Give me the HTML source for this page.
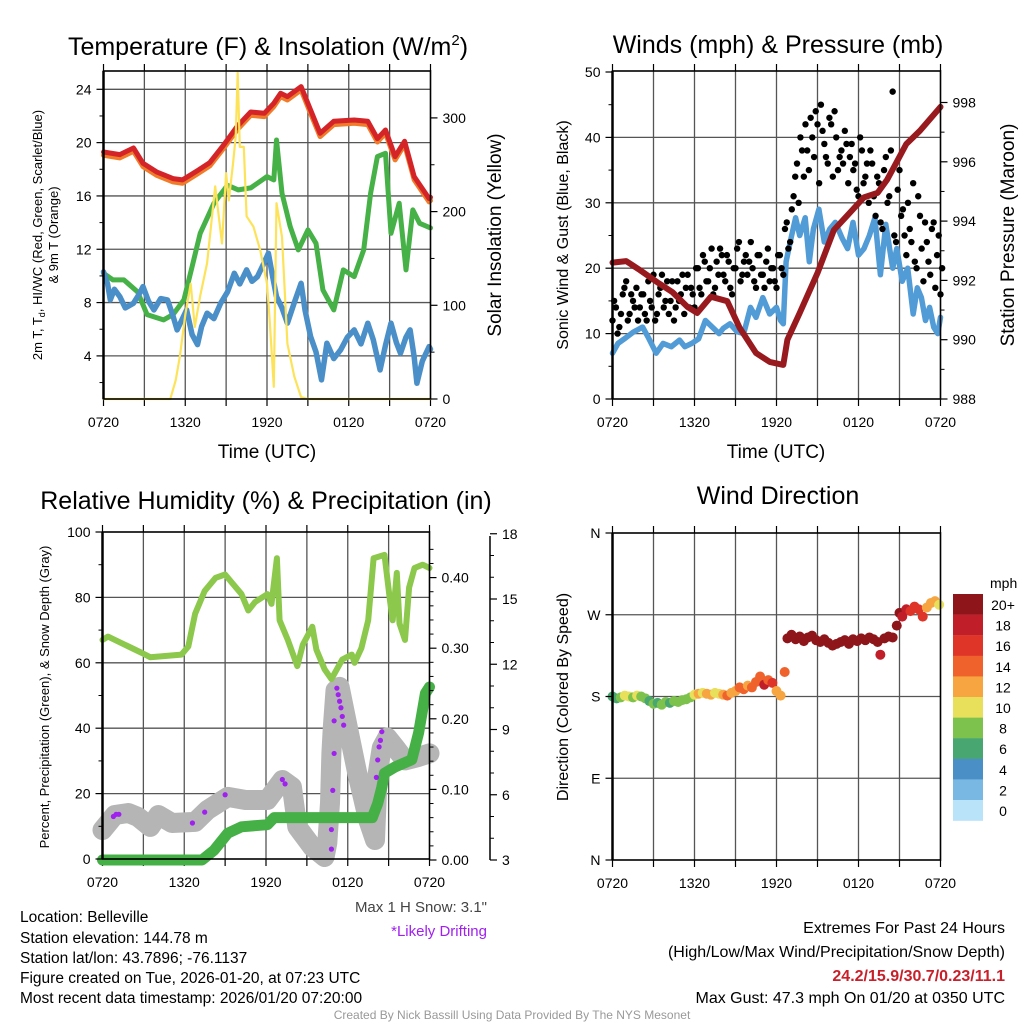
<!DOCTYPE html>
<html><head><meta charset="utf-8"><title>Belleville Mesonet</title>
<style>
html,body{margin:0;padding:0;background:#fff;}
svg{display:block;font-family:"Liberation Sans",Arial,sans-serif;}
</style></head>
<body>
<svg id="fig" width="1024" height="1024" viewBox="0 0 1024 1024" xmlns="http://www.w3.org/2000/svg">
<rect width="1024" height="1024" fill="#fff"/>
<text x="268" y="55" font-size="25" text-anchor="middle">Temperature (F) &amp; Insolation (W/m<tspan font-size="15" dy="-10">2</tspan><tspan dy="10">)</tspan></text>
<text x="778" y="53" font-size="25" text-anchor="middle">Winds (mph) &amp; Pressure (mb)</text>
<text x="266" y="509" font-size="25" text-anchor="middle">Relative Humidity (%) &amp; Precipitation (in)</text>
<text x="778" y="504" font-size="25" text-anchor="middle">Wind Direction</text>
<text x="267" y="458" font-size="19" text-anchor="middle">Time (UTC)</text>
<text x="776" y="458" font-size="19" text-anchor="middle">Time (UTC)</text>
<text transform="translate(42,235) rotate(-90)" font-size="13" text-anchor="middle">2m T, T<tspan font-size="9" dy="3">d</tspan><tspan dy="-3">, HI/WC (Red, Green, Scarlet/Blue)</tspan></text>
<text transform="translate(58,235) rotate(-90)" font-size="13" text-anchor="middle">&amp; 9m T (Orange)</text>
<text transform="translate(501,235) rotate(-90)" font-size="19" text-anchor="middle">Solar Insolation (Yellow)</text>
<text transform="translate(568,235) rotate(-90)" font-size="16" text-anchor="middle">Sonic Wind &amp; Gust (Blue, Black)</text>
<text transform="translate(1014,235) rotate(-90)" font-size="19" text-anchor="middle">Station Pressure (Maroon)</text>
<text transform="translate(49,697) rotate(-90)" font-size="13" text-anchor="middle">Percent, Precipitation (Green), &amp; Snow Depth (Gray)</text>
<text transform="translate(568,697) rotate(-90)" font-size="16" text-anchor="middle">Direction (Colored By Speed)</text>
<text x="487" y="912" font-size="15" text-anchor="end" fill="#444">Max 1 H Snow: 3.1"</text>
<text x="487" y="936" font-size="15" text-anchor="end" fill="#a020f0">*Likely Drifting</text>
<g font-size="15.5">
<text x="20" y="922">Location: Belleville</text>
<text x="20" y="943">Station elevation: 144.78 m</text>
<text x="20" y="963">Station lat/lon: 43.7896; -76.1137</text>
<text x="20" y="983">Figure created on Tue, 2026-01-20, at 07:23 UTC</text>
<text x="20" y="1003">Most recent data timestamp: 2026/01/20 07:20:00</text>
</g>
<g font-size="16" text-anchor="end">
<text x="1005" y="933">Extremes For Past 24 Hours</text>
<text x="1005" y="957">(High/Low/Max Wind/Precipitation/Snow Depth)</text>
<text x="1005" y="981" fill="#c8202a" font-weight="bold">24.2/15.9/30.7/0.23/11.1</text>
<text x="1005" y="1003">Max Gust: 47.3 mph On 01/20 at 0350 UTC</text>
</g>
<text x="512" y="1019" font-size="12" text-anchor="middle" fill="#999">Created By Nick Bassill Using Data Provided By The NYS Mesonet</text>
</svg>
<script>
// ---------- Data ----------
const timeLabels = ["0720","1320","1920","0120","0720"];
// Panel 1
const tempH = [0,1.2,2.2,2.9,3.9,5.1,5.8,6.9,7.8,8.8,9.8,10.8,11.8,12.5,13,13.5,14.5,15.1,15.9,16.9,18.4,19.4,20.1,20.7,21.4,22.1,22.8,23.9,24];
const tempV = [19.3,19.1,19.6,18.45,17.8,17.3,17.2,17.9,18.5,19.8,21.2,22.3,22.2,22.95,23.7,23.45,24.2,22.7,20.7,21.6,21.7,21.6,20.3,20.95,18.95,20.1,17.45,15.8,15.9];
const dewH = [0,0.7,1.5,2.5,3.2,4.4,5.1,5.9,6.5,7.1,8.1,9.1,9.9,10.8,12,12.5,12.7,13.1,13.7,14.3,15,15.6,16.1,16.9,17.6,18.4,19.1,19.6,20.1,20.7,21.1,21.7,22.2,22.7,23.2,24];
const dewV = [10.2,9.7,9.7,8.8,7.1,6.7,7.1,8.2,10.7,13.2,15.45,16.8,16.45,16.6,17.45,17.2,20.2,16.2,13.7,11.95,13.45,12.45,8.95,7.45,10.45,9.95,11.95,16.2,18.95,19.2,13.2,15.45,10.45,14.95,13.95,13.6];
const chillH = [0,0.3,0.5,0.8,1.2,1.6,2.2,2.6,2.9,3.3,3.7,4.2,4.7,5.1,5.4,5.8,6.1,6.5,6.9,7.2,7.6,8.1,8.6,9.1,9.6,10,10.5,10.9,11.3,11.7,12.1,12.4,12.7,13.1,13.5,14,14.5,14.8,15.2,15.6,16,16.4,16.9,17.4,17.9,18.4,18.9,19.4,19.8,20.3,20.7,21.1,21.5,21.8,22.2,22.5,22.8,23,23.4,23.9,24];
const chillV = [10.3,9.4,8.2,9.0,8.45,7.6,7.95,8.6,9.2,8.1,7.45,8.3,8.2,7.0,5.95,6.8,7.45,5.6,4.85,6.2,7.2,6.8,7.95,8.8,10.2,9.4,10.45,9.6,9.95,10.8,11.7,10.0,8.45,7.6,6.45,8.0,9.45,7.4,5.45,4.3,2.2,4.95,3.8,4.45,5.4,5.95,4.9,6.45,5.2,2.95,4.8,6.45,5.0,4.2,5.4,5.95,3.9,1.95,3.6,4.7,4.5];
const solarH = [0,4.9,5.3,5.6,6.0,6.4,6.7,7.1,7.6,8.2,8.7,9.0,9.2,9.5,9.7,9.85,10,10.3,10.5,11,11.5,12,12.2,12.5,12.7,13.1,13.5,14,14.5,15,24];
const solarV = [0,0,20,45,90,123,77,110,145,227,166,241,212,250,280,348,269,269,195,184,159,123,84,13,209,173,59,24,2,0,0];
// Panel 2
const windH = [0,0.4,1.0,1.5,2.2,2.6,3.2,3.7,4.3,4.9,5.3,5.8,6.3,6.8,7.3,7.8,8.1,8.6,9.1,9.6,10.1,10.5,11.0,11.5,12.0,12.3,12.5,12.7,13.0,13.4,13.7,14.1,14.4,14.7,15.1,15.5,15.9,16.3,16.8,17.2,17.6,18.0,18.4,18.8,19.2,19.6,20.0,20.5,20.8,21.2,21.6,22.0,22.3,22.6,22.9,23.2,23.5,23.8,24];
const windV = [7,8.5,9.4,10.2,11,9.5,7,8.5,8,9,8,8.5,9.2,12,11,10,10.8,11.5,10.3,10,14,12.5,15.5,13,14,12,11.5,21,24,27.7,25,27.7,21,26,29,24,26,27,24.6,23,27,22,23,25,27.7,19,26.7,20,23,18,20,13,17,15.5,12,14,11,10,12.5];
const gustH0 = 0, gustStep = 0.25;
const gustV = [12,14,11,16,18,13,15,17,14, 16,12,15,19,13,17,14,18, 15,12,18,16,13,19,17,14, 20,16,21,18,23,17,19,22, 18,21,16,20,24,19,22,21, 20,17,22,19,21,18,20,17, 22,19,27,24, 31,36,40,34,38,43,37,42, 45,39,36,42,44,35,38,41, 33,39,36,31,38,34,30,36, 28,33,26,37,31,47,24,35, 29,22,26,33,20,28,18, 24,19,27,22,16];
const gustV2 = [15,10,13,17,12,16,14,12,16, 13,18,14,12,16,19,15,13, 18,14,15,19,17,14,16,20, 17,22,18,20,16,21,23,19, 22,17,20,23,18,21,19,24, 18,22,19,17,23,20,18,22, 20,26,23,29, 34,30,38,42,35,40,44,33, 41,37,43,34,40,37,36,39, 37,35,32,40,33,36,38,31, 34,27,35,30,38,25,32,28, 25,30,24,21,31,23,27, 21,26,17,25,20];
const presH = [0,1,2,3.4,4.4,5.5,6.2,7.2,8.4,9.3,10.5,11.5,12.5,12.8,13.7,15,16.2,17.1,18.4,19.4,20.1,20.8,21.5,22.5,24];
const presV = [992.6,992.65,992.35,991.9,991.6,991.1,990.9,991.45,991.3,990.4,989.55,989.25,989.15,990.0,990.9,992.25,993.7,994.15,994.8,994.95,995.4,996.0,996.6,997.05,997.85];
// Panel 3
const rhH = [0,0.4,1.65,2.9,3.5,5.8,6.3,6.8,7.5,8.3,9,9.5,10.2,10.7,11.2,12.1,12.4,12.8,13,13.6,14.3,14.7,15.4,15.7,16.3,16.8,17.6,18.3,18.5,19,19.5,19.9,20.7,21.1,21.3,21.6,21.8,22.2,22.5,22.9,23.5,24];
const rhV = [67,68,65.5,63,61.7,62.5,65,75,82,86,87,84.5,81,76,78.6,81,78,92,73,67,59,65.5,71,64,58,55,61,62.5,60,64.5,73,92,93,79,73,87.5,72,67,83,89,90,89];
const precipH = [0,7.3,8.2,9.2,10.2,12.1,12.6,19.8,20.2,20.5,20.7,21.5,22.7,23.2,23.7,24];
const precipV = [0,0,0.014,0.038,0.047,0.05,0.06,0.06,0.08,0.103,0.123,0.132,0.142,0.18,0.236,0.245];
const snowH = [0,0.9,1.9,2.6,3.5,4.1,5.1,6.8,7.7,9.2,10.5,12.1,13.2,13.9,14.3,15.4,16.3,16.5,16.7,16.8,16.9,17.1,17.4,18,18.7,19.5,20,20.2,20.5,20.9,21.5,22.2,23.2,24];
const snowV = [4.38,5.07,5.16,4.98,4.52,5.07,4.7,4.75,5.3,5.9,5.76,5.76,6.68,6.36,4.52,3.6,3.14,3.78,5.62,7.92,9.1,10.8,10.96,9.1,6.98,4.84,3.92,6.98,8.17,8.63,8.17,7.58,7.74,7.9];
const driftH = [0.8,1.0,1.2,6.6,7.5,9.0,13.2,13.4,17.2,17.3,17.4,17.5,17.6,17.7,17.0,17.0,16.9,16.8,16.8,20.3,20.4,20.5,20.2,20.1];
const driftV = [5.0,5.1,5.1,4.7,5.2,6.0,6.7,6.5,10.9,10.6,10.3,10.0,9.6,9.2,9.4,7.9,6.2,4.4,3.5,8.2,8.5,8.9,7.6,6.8];
// Panel 4
const dirH = [0,0.3,0.6,0.9,1.2,1.5,1.8,2.1,2.4,2.7,3.0,3.3,3.6,3.9,4.2,4.5,4.8,5.1,5.4,5.7,6.0,6.3,6.6,6.9,7.2,7.5,7.8,8.1,8.4,8.7,9.0,9.3,9.6,9.9,10.2,10.5,10.8,11.1,11.4,11.7,12.0,12.3,12.6,12.8,13.1,13.4,13.7,14.0,14.3,14.6,14.9,15.2,15.5,15.8,16.1,16.4,16.7,17.0,17.3,17.6,17.9,18.2,18.5,18.8,19.1,19.4,19.6,19.9,20.2,20.5,20.8,21.0,21.2,21.5,21.8,22.1,22.4,22.7,23.0,23.3,23.6,23.9];
const dirV = [180,178,179,181,180,179,181,180,178,175,172,173,171,174,173,175,174,176,177,179,182,183,184,183,182,184,183,182,181,184,186,190,188,192,190,196,202,193,198,195,186,181,207,244,248,243,246,241,245,247,242,240,243,239,236,238,240,242,238,243,241,244,242,245,243,240,226,244,246,245,258,272,268,276,274,279,276,268,278,283,285,281];
const dirS = [7,6,8,10,10,9,10,9,8,7,8,7,8,8,7,8,8,9,8,9,10,12,11,13,12,10,11,13,14,12,13,14,15,13,14,15,14,18,15,16,13,12,14,21,22,22,21,22,23,22,22,21,22,23,22,21,22,22,23,21,22,22,23,21,22,22,18,22,21,22,20,20,19,18,17,16,17,16,13,12,13,10];
const cbLabels = ["20+","18","16","14","12","10","8","6","4","2","0"];
const cbColors = ["#8e161b","#c01e28","#df3528","#f0622c","#f7a540","#e8e05a","#7dc24c","#48a670","#4a8fc6","#7ab8e4","#b8e3f8"];

// ---------- Scales ----------
const P1 = {x0:103.5, x1:430.5, y0:71, y1:399};
const P2 = {x0:612.5, x1:940.5, y0:71, y1:399};
const P3 = {x0:102.5, x1:429.5, y0:532, y1:859};
const P4 = {x0:612.5, x1:940.5, y0:533, y1:860};
const xs = (P, h) => P.x0 + (P.x1 - P.x0) * h / 24;
const yTemp = v => 89.3 + (24 - v) * 13.33;
const ySol = w => 399 - w * 0.937;
const yWind = v => 399 - v * 6.54;
const yPres = p => 399 - (p - 988) * 29.65;
const yRH = v => 859 - v * 3.27;
const yPrec = v => 860 - v * 706;
const ySnow = s => 860 - (s - 3) * 21.75;
const yDir = d => 860 - d * 327 / 360;

const NS = "http://www.w3.org/2000/svg";
const svg = document.getElementById("fig");
function mk(tag, attrs, parent) {
  const e = document.createElementNS(NS, tag);
  for (const k in attrs) e.setAttribute(k, attrs[k]);
  (parent || svg).appendChild(e);
  return e;
}
function colorFor(s) {
  const idx = Math.min(10, Math.floor(s / 2));
  return cbColors[10 - idx];
}

function frame(P, name, hGrid) {
  const g = mk("g", {});
  
  
  for (let h = 3; h < 24; h += 3) {
    const l = mk("line", {x1: xs(P,h), x2: xs(P,h), y1: P.y0, y2: P.y1, stroke: "#555", "stroke-width": 1.3}, g);
    
    
  }
  hGrid.forEach(y => {
    const l = mk("line", {x1: P.x0, x2: P.x1, y1: y, y2: y, stroke: "#555", "stroke-width": 1.3}, g);
    
    
  });
  for (let h = 0; h <= 24; h += 3) {
    const x = xs(P,h);
    const t1 = mk("line", {x1: x, x2: x, y1: P.y1, y2: P.y1 + 7, stroke: "#000", "stroke-width": 1.2}, g);
    
    
    const t2 = mk("line", {x1: x, x2: x, y1: P.y0, y2: P.y0 - 7, stroke: "#000", "stroke-width": 1.2}, g);
    
    
  }
  timeLabels.forEach((lab, i) => {
    const t = mk("text", {x: xs(P, i*6), y: P.y1 + 28, "font-size": 14, "text-anchor": "middle"}, g);
    t.textContent = lab;
    
    
  });
  return g;
}
function border(P, name) {
  const r = mk("rect", {x: P.x0, y: P.y0, width: P.x1 - P.x0, height: P.y1 - P.y0, fill: "none", stroke: "#000", "stroke-width": 1.6});
  
  
  const l = mk("line", {x1: P.x0, x2: P.x0, y1: P.y0, y2: P.y1, stroke: "#000", "stroke-width": 2.5});
  
  
}
function yTicks(xAxis, side, vals, fy, labs, minors, name, fs) {
  const dir = side === "left" ? -1 : 1;
  vals.forEach((v, i) => {
    const y = fy(v);
    const t = mk("line", {x1: xAxis, x2: xAxis + dir*7, y1: y, y2: y, stroke: "#000", "stroke-width": 1.2});
    
    
    const tx = mk("text", {x: xAxis + dir*12, y: y + 5, "font-size": fs || 14, "text-anchor": side === "left" ? "end" : "start"});
    tx.textContent = labs[i];
    
    
  });
  minors.forEach(v => {
    const y = fy(v);
    const t = mk("line", {x1: xAxis, x2: xAxis + dir*4, y1: y, y2: y, stroke: "#000", "stroke-width": 1});
    
    
  });
}
function path(P, H, V, fy, color, width, name) {
  let d = "";
  H.forEach((h, i) => { d += (i ? "L" : "M") + xs(P,h).toFixed(1) + " " + fy(V[i]).toFixed(1); });
  const p = mk("path", {d: d, fill: "none", stroke: color, "stroke-width": width, "stroke-linejoin": "round", "stroke-linecap": "round"});
  
  
  return p;
}

// ---------- Panel 1 ----------
frame(P1, "temperature", [4,8,12,16,20,24].map(yTemp));
path(P1, tempH, tempV.map(v => v - 0.25), yTemp, "#f07c2a", 5, "series-9m-temperature");
path(P1, dewH, dewV, yTemp, "#46b146", 5, "series-dewpoint");
path(P1, chillH, chillV, yTemp, "#4a8fc8", 5.5, "series-wind-chill");
path(P1, tempH, tempV, yTemp, "#d42428", 5, "series-2m-temperature");
path(P1, solarH, solarV, ySol, "#fde35a", 2.2, "series-solar-insolation");
border(P1, "temperature");
yTicks(P1.x0, "left", [4,8,12,16,20,24], yTemp, ["4","8","12","16","20","24"], [2,6,10,14,18,22], "temperature-y");
yTicks(P1.x1, "right", [0,100,200,300], ySol, ["0","100","200","300"], [50,150,250], "insolation-y");

// ---------- Panel 2 ----------
frame(P2, "winds", [10,20,30,40].map(yWind));
path(P2, windH, windV, yWind, "#519bd6", 5.5, "series-sonic-wind");
gustV.forEach((v, i) => {
  const c = mk("circle", {cx: xs(P2, gustH0 + i*gustStep), cy: yWind(v), r: 3.2, fill: "#000"});
  
  
});
gustV2.forEach((v, i) => {
  const c = mk("circle", {cx: xs(P2, gustH0 + 0.12 + i*gustStep), cy: yWind(v), r: 3.2, fill: "#000"});
  
  
});
path(P2, presH, presV, yPres, "#981a1e", 6, "series-station-pressure");
border(P2, "winds");
yTicks(P2.x0, "left", [0,10,20,30,40,50], yWind, ["0","10","20","30","40","50"], [5,15,25,35,45], "wind-y");
yTicks(P2.x1, "right", [988,990,992,994,996,998], yPres, ["988","990","992","994","996","998"], [989,991,993,995,997], "pressure-y");

// ---------- Panel 3 ----------
frame(P3, "humidity", [20,40,60,80].map(yRH));
path(P3, snowH, snowV, ySnow, "#b5b5b5", 20, "series-snow-depth");
path(P3, rhH, rhV, yRH, "#8cc84b", 6, "series-relative-humidity");
path(P3, precipH, precipV, yPrec, "#45b046", 11, "series-precipitation");
driftH.forEach((h, i) => {
  const c = mk("circle", {cx: xs(P3, h), cy: ySnow(driftV[i]), r: 2.6, fill: "#a020f0"});
  
  
});
border(P3, "humidity");
yTicks(P3.x0, "left", [0,20,40,60,80,100], yRH, ["0","20","40","60","80","100"], [10,30,50,70,90], "humidity-y");
const pm = []; for (let k = 1; k < 23; k++) if (k % 5) pm.push(k*0.02);
yTicks(P3.x1, "right", [0,0.1,0.2,0.3,0.4], yPrec, ["0.00","0.10","0.20","0.30","0.40"], pm, "precip-y");
const sAx = mk("line", {x1: 490, x2: 490, y1: 536, y2: 860, stroke: "#000", "stroke-width": 1.5});


yTicks(490, "right", [3,6,9,12,15,18], ySnow, ["3","6","9","12","15","18"], [4,5,7,8,10,11,13,14,16,17], "snow-y");

// ---------- Panel 4 ----------
frame(P4, "direction", [90,180,270].map(yDir));
dirH.forEach((h, i) => {
  const c = mk("circle", {cx: xs(P4, h), cy: yDir(dirV[i]), r: 5, fill: colorFor(dirS[i])});
  
  
});
border(P4, "direction");
yTicks(P4.x0, "left", [0,90,180,270,360], yDir, ["N","E","S","W","N"], [], "direction-y", 14);
// colorbar
const cbT = mk("text", {x: 990, y: 588, "font-size": 14});
cbT.textContent = "mph";


cbColors.forEach((c, i) => {
  const r = mk("rect", {x: 953, y: 594 + i*20.6, width: 30, height: 20.8, fill: c});
  
  
  const t = mk("text", {x: 1003, y: 594 + i*20.6 + 16, "font-size": 14, "text-anchor": "middle"});
  t.textContent = cbLabels[i];
  
  
});
</script>
</body></html>
